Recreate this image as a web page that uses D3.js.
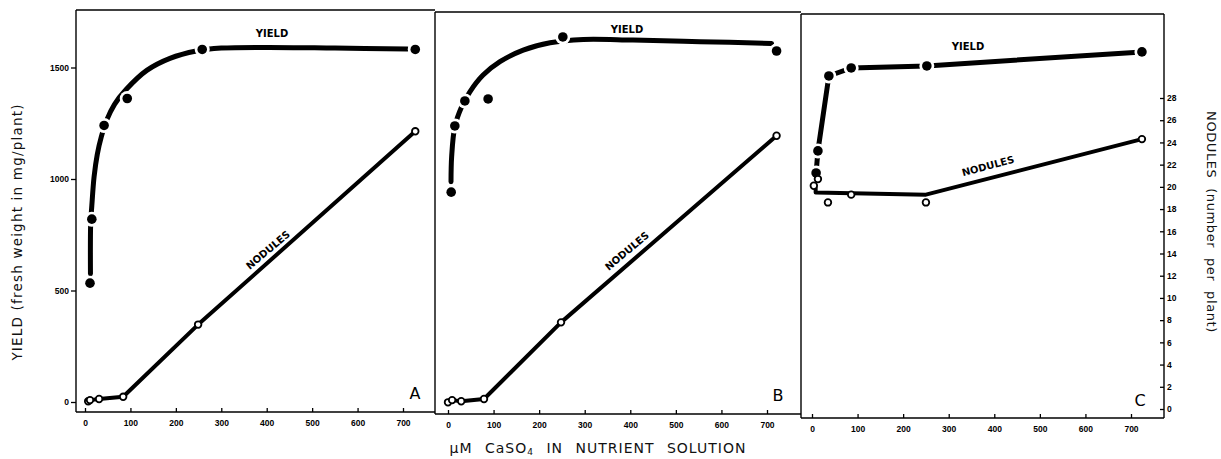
<!DOCTYPE html>
<meta charset="utf-8">
<style>
body { margin: 0; background: #fff; }
svg { display: block; font-family: "DejaVu Sans", sans-serif; }
.tick text { font-size: 8.5px; font-weight: bold; fill: #000; }
.tick line { stroke: #000; stroke-width: 1.3; }
.frame { stroke: #000; stroke-width: 1.4; fill: none; }
.title { font-size: 13px; fill: #111; letter-spacing: 0.6px; }
.lbl { font-size: 10px; font-weight: bold; fill: #000; }
.panel { font-size: 16px; fill: #000; }
</style>
<body>
<svg width="1221" height="459"></svg>
<script src="https://cdnjs.cloudflare.com/ajax/libs/d3/7.8.5/d3.min.js"></script>
<script>

// tick labels
var concTicks    = [0, 100, 200, 300, 400, 500, 600, 700];
var yieldTicks   = [0, 500, 1000, 1500];
var noduleTicks  = [0, 2, 4, 6, 8, 10, 12, 14, 16, 18, 20, 22, 24, 26, 28];

// panel A
var concA_yield   = [11, 15, 42, 93, 258, 727];
var yieldA        = [533, 820, 1240, 1361, 1581, 1581];
var fitA_conc     = [12, 12.5, 15, 20, 27, 36, 48, 65, 90, 136, 187, 245, 300, 400, 550, 710];
var fitA_yield    = [575, 800, 880, 1010, 1110, 1190, 1265, 1335, 1400, 1487, 1541, 1574, 1587, 1590, 1587, 1583];
var concA_nod     = [7, 11, 31, 84, 249, 727];
var nodulesA      = [0.7, 0.8, 0.9, 1.1, 7.6, 25.0];

// panel B
var concB_yield   = [7, 15, 37, 88, 252, 721];
var yieldB        = [941, 1238, 1350, 1359, 1637, 1574];
var fitB_conc     = [6.6, 8, 15, 30, 48, 77, 114, 165, 224, 297, 406, 553, 710];
var fitB_yield    = [988, 1100, 1235, 1324, 1391, 1466, 1526, 1578, 1611, 1626, 1623, 1616, 1608];
var concB_nod     = [0, 9, 29, 79, 248, 721];
var nodulesB      = [0.6, 0.8, 0.7, 0.9, 7.8, 24.6];

// panel C
var concC_yield   = [9, 13, 37, 86, 252, 724];
var yieldC        = [1027, 1126, 1462, 1498, 1507, 1570];
var concC_nod     = [4, 13, 35, 86, 250, 724];
var nodulesC      = [20.1, 20.7, 18.6, 19.3, 18.6, 24.3];
var fitC_conc     = [8, 8, 250, 724];
var fitC_nod      = [19.9, 19.5, 19.3, 24.3];

var svg = d3.select("svg");

var yYield = d3.scaleLinear().domain([0, 1500]).range([402, 67.5]);
var yNod   = d3.scaleLinear().domain([0, 28]).range([409, 98]);

var panels = [
    { name: "A", x0: 85,  x1: 403,  left: 76,  right: 435,  top: 10, bottom: 412,
      cy: concA_yield, vy: yieldA, fx: fitA_conc, fy: fitA_yield, fitNod: false,
      cn: concA_nod, vn: nodulesA,
      yieldLbl: [272, 33], nodLbl: [268, 250, -40], letter: [415, 399] },
    { name: "B", x0: 448, x1: 767,  left: 435, right: 801,  top: 12, bottom: 414,
      cy: concB_yield, vy: yieldB, fx: fitB_conc, fy: fitB_yield, fitNod: false,
      cn: concB_nod, vn: nodulesB,
      yieldLbl: [627, 29], nodLbl: [627, 251, -40], letter: [778, 401] },
    { name: "C", x0: 812, x1: 1131, left: 801, right: 1164, top: 14, bottom: 418,
      cy: concC_yield, vy: yieldC, fx: concC_yield, fy: yieldC, fitNod: true,
      cn: concC_nod, vn: nodulesC,
      yieldLbl: [968, 46], nodLbl: [988, 166, -15], letter: [1140, 406] }
];

panels.forEach(function(p) {
    var x = d3.scaleLinear().domain([0, 700]).range([p.x0, p.x1]);
    var g = svg.append("g");

    // frame
    g.append("line").attr("class", "frame")
        .attr("x1", p.left).attr("x2", p.right).attr("y1", p.top).attr("y2", p.top);
    g.append("line").attr("class", "frame")
        .attr("x1", p.left).attr("x2", p.right).attr("y1", p.bottom).attr("y2", p.bottom);
    g.append("line").attr("class", "frame")
        .attr("x1", p.left).attr("x2", p.left).attr("y1", p.top).attr("y2", p.bottom);

    // x axis, ticks pointing inward
    var ax = g.append("g")
        .attr("transform", "translate(0," + p.bottom + ")")
        .call(d3.axisBottom(x).tickValues(concTicks).tickSize(-4).tickPadding(8));
    ax.select(".domain").remove();

    // yield curve or polyline
    var yLine = d3.line()
        .x(function(d) { return x(d[0]); })
        .y(function(d) { return yYield(d[1]); })
        .curve(p.name === "C" ? d3.curveLinear : d3.curveCatmullRom.alpha(0.5));
    g.append("path")
        .datum(p.fx.map(function(c, i) { return [c, p.fy[i]]; }))
        .attr("d", yLine)
        .attr("fill", "none").attr("stroke", "#000")
        .attr("stroke-width", 5).attr("stroke-linecap", "round");

    // nodules line
    var nLine = d3.line()
        .x(function(d) { return x(d[0]); })
        .y(function(d) { return yNod(d[1]); });
    var nData = p.fitNod
        ? fitC_conc.map(function(c, i) { return [c, fitC_nod[i]]; })
        : p.cn.map(function(c, i) { return [c, p.vn[i]]; });
    g.append("path")
        .datum(nData)
        .attr("d", nLine)
        .attr("fill", "none").attr("stroke", "#000")
        .attr("stroke-width", 4).attr("stroke-linecap", "round").attr("stroke-linejoin", "round");

    // yield dots with white halo
    var yd = p.cy.map(function(c, i) { return [c, p.vy[i]]; });
    g.selectAll(".halo").data(yd).enter().append("circle")
        .attr("class", "halo")
        .attr("cx", function(d) { return x(d[0]); })
        .attr("cy", function(d) { return yYield(d[1]); })
        .attr("r", 7.5).attr("fill", "#fff");
    g.selectAll(".ydot").data(yd).enter().append("circle")
        .attr("class", "ydot")
        .attr("cx", function(d) { return x(d[0]); })
        .attr("cy", function(d) { return yYield(d[1]); })
        .attr("r", 4.8).attr("fill", "#000");

    // nodule open circles
    var nd = p.cn.map(function(c, i) { return [c, p.vn[i]]; });
    g.selectAll(".ndot").data(nd).enter().append("circle")
        .attr("class", "ndot")
        .attr("cx", function(d) { return x(d[0]); })
        .attr("cy", function(d) { return yNod(d[1]); })
        .attr("r", 3.3).attr("fill", "#fff")
        .attr("stroke", "#000").attr("stroke-width", 1.8);

    // labels
    g.append("text").attr("class", "lbl")
        .attr("x", p.yieldLbl[0]).attr("y", p.yieldLbl[1])
        .attr("text-anchor", "middle").attr("dy", "0.35em")
        .text("YIELD");
    g.append("text").attr("class", "lbl")
        .attr("transform", "translate(" + p.nodLbl[0] + "," + p.nodLbl[1] + ") rotate(" + p.nodLbl[2] + ")")
        .attr("text-anchor", "middle").attr("dy", "0.35em")
        .text("NODULES");
    g.append("text").attr("class", "panel")
        .attr("x", p.letter[0]).attr("y", p.letter[1])
        .attr("text-anchor", "middle")
        .text(p.name);
});

// right border / nodules axis
svg.append("line").attr("class", "frame")
    .attr("x1", 1164).attr("x2", 1164).attr("y1", 14).attr("y2", 418);
var ar = svg.append("g")
    .attr("transform", "translate(1164,0)")
    .call(d3.axisRight(yNod).tickValues(noduleTicks).tickSize(-4).tickPadding(3));
ar.select(".domain").remove();

// left yield axis
var al = svg.append("g")
    .attr("transform", "translate(76,0)")
    .call(d3.axisLeft(yYield).tickValues(yieldTicks).tickFormat(d3.format("d")).tickSize(5).tickPadding(2));
al.select(".domain").remove();

// axis titles
svg.append("text").attr("class", "title")
    .attr("transform", "translate(22,232) rotate(-90)")
    .attr("text-anchor", "middle")
    .style("letter-spacing", "1.2px")
    .style("font-size", "13.5px")
    .text("YIELD (fresh weight in mg/plant)");

svg.append("text").attr("class", "title")
    .attr("transform", "translate(1207,222) rotate(90)")
    .attr("text-anchor", "middle")
    .attr("word-spacing", "5px")
    .text("NODULES (number per plant)");

svg.append("text").attr("class", "title")
    .attr("x", 598).attr("y", 453)
    .attr("text-anchor", "middle")
    .attr("word-spacing", "7px")
    .style("font-size", "14px")
    .style("letter-spacing", "1px")
    .html("µM CaSO<tspan font-size='9px' dy='2'>4</tspan><tspan dy='-2'> IN NUTRIENT SOLUTION</tspan>");

</script>
